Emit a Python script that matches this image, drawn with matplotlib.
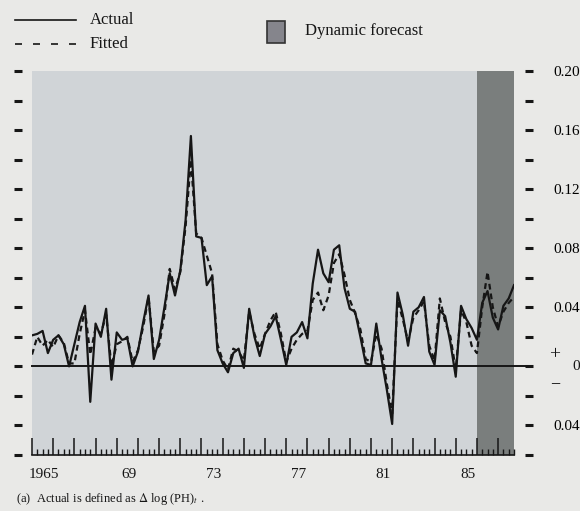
import matplotlib.pyplot as plt
import matplotlib.lines as mlines
import matplotlib.patches as mpatches
import numpy as np

plt.rcParams['font.family'] = ['Liberation Serif', 'DejaVu Serif']
plt.rcParams['mathtext.fontset'] = 'stix'

# quarterly data, 1965Q1 .. 1987Q4
start_year = 1965
actual = [0.021, 0.022, 0.024, 0.009, 0.018, 0.021, 0.015, 0.000, 0.015, 0.030,
          0.041, -0.024, 0.029, 0.020, 0.039, -0.009, 0.023, 0.018, 0.019, 0.000,
          0.010, 0.030, 0.048, 0.005, 0.018, 0.040, 0.063, 0.048, 0.065, 0.099,
          0.156, 0.088, 0.087, 0.055, 0.061, 0.011, 0.002, -0.004, 0.009, 0.012,
          -0.001, 0.039, 0.020, 0.007, 0.022, 0.027, 0.034, 0.018, 0.001, 0.020,
          0.023, 0.030, 0.019, 0.056, 0.079, 0.063, 0.057, 0.079, 0.082, 0.053,
          0.039, 0.037, 0.020, 0.002, 0.001, 0.029, 0.005, -0.016, -0.039, 0.050,
          0.035, 0.014, 0.037, 0.040, 0.047, 0.010, 0.001, 0.038, 0.034, 0.016,
          -0.007, 0.041, 0.032, 0.026, 0.018, 0.043, 0.051, 0.033, 0.025, 0.041,
          0.046, 0.055]
fitted = [0.008, 0.020, 0.014, 0.018, 0.013, 0.021, 0.016, 0.002, 0.002, 0.022,
          0.038, 0.008, 0.026, 0.022, 0.035, 0.000, 0.015, 0.017, 0.020, 0.003,
          0.011, 0.027, 0.047, 0.010, 0.014, 0.035, 0.066, 0.052, 0.064, 0.095,
          0.140, 0.090, 0.087, 0.075, 0.063, 0.015, 0.004, -0.002, 0.012, 0.010,
          0.004, 0.037, 0.022, 0.012, 0.022, 0.031, 0.037, 0.022, 0.003, 0.012,
          0.018, 0.022, 0.024, 0.045, 0.050, 0.038, 0.048, 0.070, 0.076, 0.062,
          0.045, 0.036, 0.025, 0.005, 0.003, 0.022, 0.012, -0.012, -0.032, 0.045,
          0.032, 0.017, 0.033, 0.038, 0.044, 0.014, 0.004, 0.046, 0.030, 0.020,
          -0.002, 0.038, 0.030, 0.014, 0.009, 0.040, 0.064, 0.040, 0.027, 0.037,
          0.043, 0.047]
forecast_start = 1986
year_labels = ['1965', '69', '73', '77', '81', '85']
label_years = [1965, 1969, 1973, 1977, 1981, 1985]
right_ticks = [-0.04, 0, 0.04, 0.08, 0.12, 0.16, 0.20]
right_labels = ['0.04', '', '0.04', '0.08', '0.12', '0.16', '0.20']

t = start_year + np.arange(len(actual)) / 4

W, H = 580, 511
fig = plt.figure(figsize=(W / 100, H / 100), dpi=100)
fig.patch.set_facecolor('#e9e9e7')
ax = fig.add_axes([32 / W, 56 / H, 482 / W, 384 / H])
ax.set_facecolor('#d0d4d7')

ink = '#161616'
ax.axvspan(forecast_start, t[-1], color='#7a7e7d', lw=0)
ax.axhline(0, xmin=0, xmax=1.031, color=ink, lw=1.4, clip_on=False)
ax.plot(t, fitted, color=ink, lw=1.6, ls=(0, (2.6, 1.8)))
ax.plot(t, actual, color=ink, lw=1.6)

ax.set_xlim(start_year, t[-1])
ax.set_ylim(-0.06, 0.20)

# y ticks: detached dashes on both sides, labels on the right only
for s in ['top', 'left', 'right']:
    ax.spines[s].set_visible(False)
ax.spines['left'].set_position(('outward', 7.2))
ax.spines['right'].set_position(('outward', 8))
ax.spines['bottom'].set_color(ink)
ax.spines['bottom'].set_linewidth(1.2)

ax.set_yticks(right_ticks)
ax.set_yticklabels(right_labels)
ax.set_yticks(np.arange(-0.06, 0.20, 0.04), minor=True)
ax.tick_params(axis='y', which='both', left=True, right=True, labelleft=False,
               labelright=True, direction='out', length=6, width=2.2,
               color=ink, labelsize=11, pad=14)

# x ticks: years (long) and quarters (short) inside the frame
ax.set_xticks(np.arange(start_year, 1988, 1))
ax.set_xticks(np.arange(start_year, t[-1] + 0.01, 0.25), minor=True)
ax.tick_params(axis='x', which='major', direction='in', length=12, width=1.1,
               color=ink, labelbottom=False)
ax.tick_params(axis='x', which='minor', direction='in', length=4.5, width=1.0,
               color=ink)
for lab, yr in zip(year_labels, label_years):
    ax.text(yr + 0.57, -0.05, lab, transform=ax.get_xaxis_transform(),
            ha='center', va='center', fontsize=11, color=ink)

# +/- 0 marker on the right axis
ax.text(1.085, 0.008, '+', transform=ax.get_yaxis_transform(), ha='center',
        va='center', fontsize=14, color=ink)
ax.text(1.085, -0.012, '\u2212', transform=ax.get_yaxis_transform(),
        ha='center', va='center', fontsize=13, color=ink)
ax.text(1.122, 0, '0', transform=ax.get_yaxis_transform(), ha='left',
        va='center', fontsize=11, color=ink)

# legend at the top
def fx(px):
    return px / W

def fy(py):
    return 1 - py / H

fig.add_artist(mlines.Line2D([fx(15), fx(76)], [fy(20), fy(20)], color=ink,
                             lw=1.2, transform=fig.transFigure))
fig.add_artist(mlines.Line2D([fx(15), fx(76)], [fy(44), fy(44)], color=ink,
                             lw=1.2, ls=(0, (4.2, 6.6)), transform=fig.transFigure))
fig.text(fx(90), fy(20), 'Actual', fontsize=12, va='center', color=ink)
fig.text(fx(90), fy(44), 'Fitted', fontsize=12, va='center', color=ink)
fig.add_artist(mpatches.Rectangle((fx(267), fy(43)), fx(18), 22 / H,
                                  facecolor='#85858c', edgecolor='#333333',
                                  lw=1.2, transform=fig.transFigure))
fig.text(fx(305), fy(31), 'Dynamic forecast', fontsize=12, va='center',
         color=ink)

fig.text(fx(16), fy(499), r'(a)  Actual is defined as $\Delta$ log (PH)$_t$ .',
         fontsize=9, va='center', color=ink)

fig.savefig('out.png', dpi=100, facecolor=fig.get_facecolor())
